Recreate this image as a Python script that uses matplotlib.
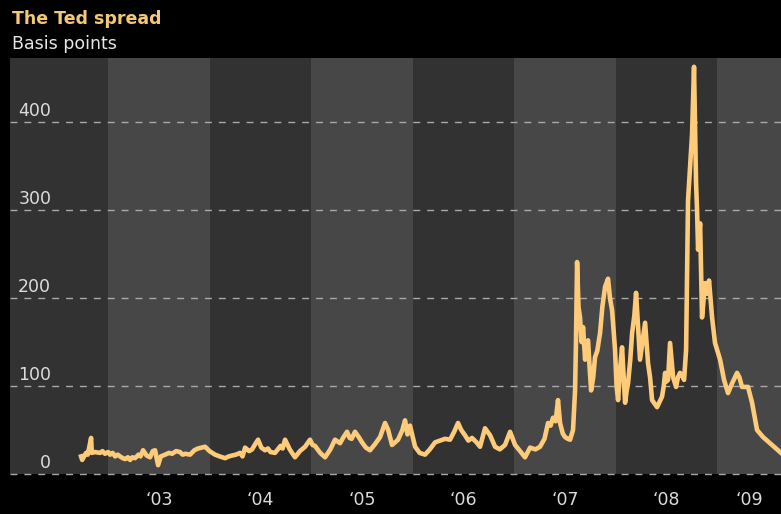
import matplotlib.pyplot as plt

# TED spread, basis points (decimal years)
years = [
    2002.734, 2002.745, 2002.783, 2002.800, 2002.833, 2002.840, 2002.870, 2002.921,
    2002.945, 2002.970, 2003.000, 2003.020, 2003.045, 2003.070, 2003.095, 2003.118,
    2003.145, 2003.170, 2003.195, 2003.217, 2003.240, 2003.266, 2003.300, 2003.320,
    2003.345, 2003.380, 2003.414, 2003.440, 2003.463, 2003.493, 2003.520, 2003.562,
    2003.600, 2003.631, 2003.670, 2003.709, 2003.735, 2003.760, 2003.808, 2003.850,
    2003.887, 2003.956, 2004.000, 2004.054, 2004.100, 2004.153, 2004.190, 2004.222,
    2004.260, 2004.300, 2004.325, 2004.350, 2004.390, 2004.419, 2004.450, 2004.478,
    2004.510, 2004.547, 2004.575, 2004.600, 2004.645, 2004.700, 2004.720, 2004.744,
    2004.790, 2004.842, 2004.890, 2004.941, 2004.990, 2005.015, 2005.039, 2005.090,
    2005.138, 2005.190, 2005.236, 2005.286, 2005.320, 2005.355, 2005.380, 2005.400,
    2005.433, 2005.470, 2005.502, 2005.540, 2005.581, 2005.630, 2005.680, 2005.729,
    2005.760, 2005.798, 2005.857, 2005.900, 2005.926, 2005.950, 2005.975, 2006.025,
    2006.070, 2006.123, 2006.170, 2006.222, 2006.271, 2006.320, 2006.369, 2006.410,
    2006.448, 2006.480, 2006.517, 2006.550, 2006.586, 2006.630, 2006.665, 2006.714,
    2006.764, 2006.813, 2006.860, 2006.911, 2006.961, 2007.010, 2007.060, 2007.108,
    2007.158, 2007.210, 2007.256, 2007.300, 2007.335, 2007.360, 2007.384, 2007.410,
    2007.433, 2007.453, 2007.480, 2007.502, 2007.530, 2007.552, 2007.581, 2007.601,
    2007.610, 2007.621, 2007.635, 2007.650, 2007.665, 2007.680, 2007.700, 2007.715,
    2007.729, 2007.745, 2007.759, 2007.780, 2007.798, 2007.820, 2007.847, 2007.870,
    2007.897, 2007.926, 2007.945, 2007.966, 2007.995, 2008.010, 2008.025, 2008.045,
    2008.064, 2008.094, 2008.110, 2008.123, 2008.145, 2008.163, 2008.185, 2008.202,
    2008.220, 2008.241, 2008.265, 2008.291, 2008.320, 2008.340, 2008.360, 2008.409,
    2008.458, 2008.475, 2008.488, 2008.500, 2008.517, 2008.537, 2008.567, 2008.596,
    2008.615, 2008.635, 2008.655, 2008.675, 2008.695, 2008.714, 2008.734, 2008.754,
    2008.773, 2008.793, 2008.803, 2008.813, 2008.833, 2008.852, 2008.882, 2008.900,
    2008.921, 2008.951, 2008.980, 2009.030, 2009.069, 2009.108, 2009.148, 2009.197,
    2009.220, 2009.246, 2009.305, 2009.345, 2009.394, 2009.453, 2009.522, 2009.571,
    2009.630,
]
spread = [
    20, 16, 24, 22, 41, 24, 25, 24,
    26, 23, 25, 22, 24, 20, 22, 20,
    18, 17, 19, 16, 19, 18, 22, 20,
    27, 21, 19, 26, 27, 10, 20, 22,
    24, 23, 26, 25, 22, 23, 22, 27,
    29, 31, 26, 22, 20, 18, 20, 21,
    22, 24, 20, 30, 26, 28, 34, 39,
    30, 27, 29, 25, 24, 32, 29, 39,
    28, 19, 26, 31, 39, 33, 32, 24,
    19, 28, 39, 35, 42, 48, 41, 40,
    48, 42, 36, 30, 27, 34, 42, 58,
    50, 33, 39, 50, 61, 45, 55, 31,
    24, 22, 28, 36, 38, 40, 39, 48,
    58, 50, 44, 38, 41, 36, 31, 52,
    44, 31, 28, 33, 48, 33, 26, 19,
    30, 28, 31, 40, 58, 55, 64, 60,
    84, 58, 46, 42, 40, 39, 50, 95,
    150, 241, 190, 178, 150, 167, 130, 150,
    152, 120, 95, 110, 133, 140, 160, 190,
    213, 222, 200, 186, 141, 100, 84, 120,
    144, 81, 95, 103, 130, 160, 180, 206,
    170, 130, 150, 172, 126, 110, 84, 76,
    88, 100, 115, 105, 107, 149, 110, 99,
    110, 115, 112, 107, 141, 311, 349, 387,
    463, 331, 300, 255, 285, 178, 217, 205,
    220, 178, 149, 130, 107, 92, 103, 115,
    110, 99, 99, 81, 50, 42, 35, 30,
    24,
]

band_years = [2002, 2003, 2004, 2005, 2006, 2007, 2008, 2009]
tick_labels = ["\u201803", "\u201804", "\u201805", "\u201806", "\u201807", "\u201808", "\u201809"]
y_levels = [0, 100, 200, 300, 400]

x_lo, x_hi = 2002.034, 2009.630

fig = plt.figure(figsize=(7.81, 5.14), dpi=100, facecolor="black")
ax = fig.add_axes([10 / 781, 40 / 514, 771 / 781, 416 / 514])
ax.set_facecolor("#323232")

# alternating year bands
for i, yr in enumerate(band_years):
    col = "#323232" if i % 2 == 0 else "#474747"
    ax.axvspan(yr, yr + 1, color=col, lw=0, zorder=0)

# dashed grid + labels sitting on it
for v in y_levels:
    ax.axhline(v, color="#a8a8a8", lw=1, ls=(0, (5, 5)), zorder=1, clip_on=False)
    ax.annotate(str(v), xy=(2002.44, v), xytext=(0, 1.5), textcoords="offset points",
                ha="right", va="bottom", color="#dcdcdc", fontsize=12.5)

ax.plot(years, spread, color="#fdcb7a", lw=3.3, solid_joinstyle="round", zorder=3)

ax.set_xlim(x_lo, x_hi)
ax.set_ylim(0, 473)
ax.set_yticks([])
# labels centred in the visible part of each year band
tick_pos = [(max(y, x_lo) + min(y + 1, x_hi)) / 2 for y in band_years[1:]]
ax.set_xticks(tick_pos)
ax.set_xticklabels(tick_labels)
ax.tick_params(axis="x", length=0, pad=12, colors="#dcdcdc", labelsize=12.5)
for s in ax.spines.values():
    s.set_visible(False)

fig.text(12 / 781, 1 - 19 / 514, "The Ted spread", color="#f5c878", fontsize=12.5,
         fontweight="bold", va="center", ha="left")
fig.text(12 / 781, 1 - 44 / 514, "Basis points", color="#e6e6e6", fontsize=12.5,
         va="center", ha="left")

fig.savefig("out.png", dpi=100, facecolor="black")
